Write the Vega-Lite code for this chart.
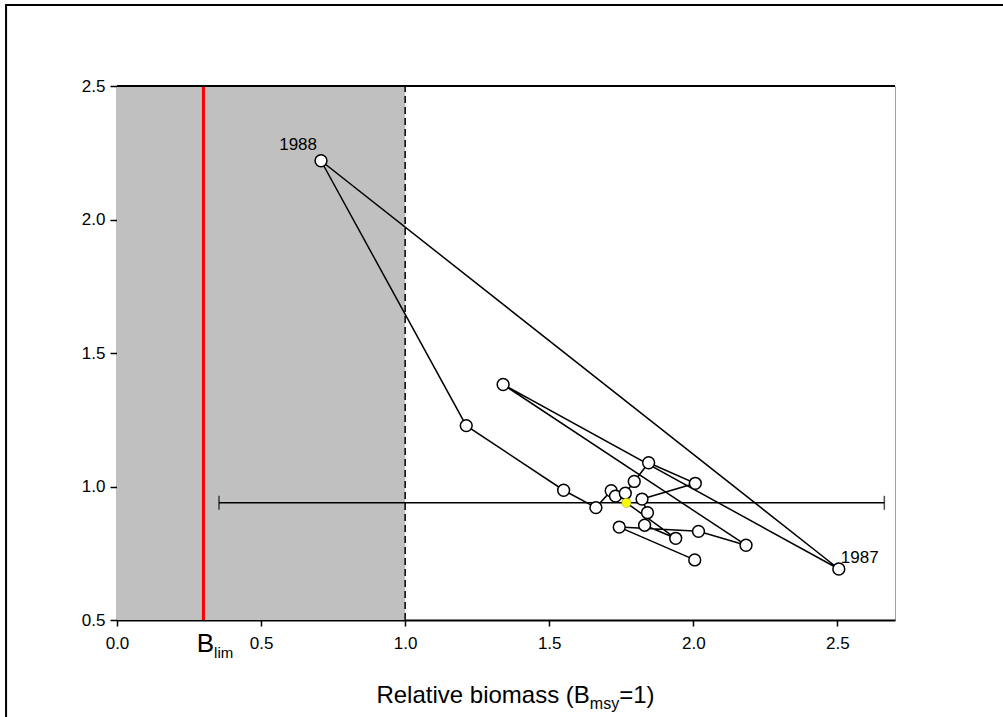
{
  "$schema": "https://vega.github.io/schema/vega-lite/v6.json",
  "width": 778,
  "height": 534,
  "autosize": {"type": "none"},
  "padding": {"left": 117, "top": 86, "right": 108, "bottom": 97},
  "background": "white",
  "config": {
    "view": {"stroke": "#a0a0a0", "strokeWidth": 1},
    "font": "Liberation Sans"
  },
  "data": {"values": [{}]},
  "datasets": {
    "series": [
      {"year": 1982, "b": 2.005, "f": 0.725},
      {"year": 1983, "b": 1.743, "f": 0.848},
      {"year": 1984, "b": 2.018, "f": 0.832},
      {"year": 1985, "b": 2.183, "f": 0.780},
      {"year": 1986, "b": 1.340, "f": 1.382},
      {"year": 1987, "b": 2.505, "f": 0.691},
      {"year": 1988, "b": 0.708, "f": 2.220},
      {"year": 1989, "b": 1.212, "f": 1.228},
      {"year": 1990, "b": 1.550, "f": 0.986},
      {"year": 1991, "b": 1.662, "f": 0.921},
      {"year": 1992, "b": 1.715, "f": 0.984},
      {"year": 1993, "b": 1.730, "f": 0.964},
      {"year": 1994, "b": 1.764, "f": 0.975},
      {"year": 1995, "b": 1.795, "f": 1.019},
      {"year": 1996, "b": 1.845, "f": 1.089},
      {"year": 1997, "b": 2.007, "f": 1.012},
      {"year": 1998, "b": 1.822, "f": 0.953},
      {"year": 1999, "b": 1.841, "f": 0.902},
      {"year": 2000, "b": 1.831, "f": 0.855},
      {"year": 2001, "b": 1.939, "f": 0.806},
      {"year": 2002, "b": 1.768, "f": 0.939}
    ],
    "ci": [{"lo": 0.354, "hi": 2.663, "f": 0.939}],
    "caps": [{"b": 0.354, "f": 0.939}, {"b": 2.663, "f": 0.939}]
  },
  "layer": [
    {
      "mark": {"type": "rect", "color": "#c0c0c0"},
      "encoding": {
        "x": {"datum": 0, "type": "quantitative", "title": null, "scale": {"domain": [0, 2.7], "nice": false, "zero": false},
          "axis": {"values": [0, 0.5, 1, 1.5, 2, 2.5], "title": null, "format": ".1f", "labelFontSize": 17, "labelColor": "black", "labelFont": "Liberation Sans", "tickColor": "black", "tickSize": 6, "tickWidth": 1.5, "domainColor": "black", "domainWidth": 2, "labelPadding": 9, "grid": false, "labelFlush": false}},
        "x2": {"datum": 1},
        "y": {"datum": 0.5, "type": "quantitative", "title": null, "scale": {"domain": [0.5, 2.5], "nice": false, "zero": false},
          "axis": {"values": [0.5, 1, 1.5, 2, 2.5], "title": null, "format": ".1f", "labelFontSize": 17, "labelColor": "black", "labelFont": "Liberation Sans", "tickColor": "black", "tickSize": 7, "tickWidth": 1.5, "domainColor": "black", "domainWidth": 1.5, "labelPadding": 5, "grid": false, "labelFlush": false}},
        "y2": {"datum": 2.5}
      }
    },
    {
      "mark": {"type": "rule", "color": "#ff0000", "strokeWidth": 3},
      "encoding": {
        "x": {"datum": 0.3, "type": "quantitative", "title": null, "scale": {"domain": [0, 2.7], "nice": false, "zero": false}},
        "y": {"datum": 0.5, "type": "quantitative", "title": null, "scale": {"domain": [0.5, 2.5], "nice": false, "zero": false}},
        "y2": {"datum": 2.5}
      }
    },
    {
      "mark": {"type": "rule", "color": "black", "strokeWidth": 1.5, "strokeDash": [7, 4]},
      "encoding": {
        "x": {"datum": 1, "type": "quantitative", "title": null, "scale": {"domain": [0, 2.7], "nice": false, "zero": false}},
        "y": {"datum": 0.5, "type": "quantitative", "title": null, "scale": {"domain": [0.5, 2.5], "nice": false, "zero": false}},
        "y2": {"datum": 2.5}
      }
    },
    {
      "mark": {"type": "rule", "color": "black", "strokeWidth": 2},
      "encoding": {
        "x": {"datum": 0, "type": "quantitative", "title": null, "scale": {"domain": [0, 2.7], "nice": false, "zero": false}},
        "x2": {"datum": 2.7},
        "y": {"datum": 2.5, "type": "quantitative", "title": null, "scale": {"domain": [0.5, 2.5], "nice": false, "zero": false}}
      }
    },
    {
      "mark": {"type": "rect", "fillOpacity": 0, "stroke": "black", "strokeWidth": 2, "clip": false},
      "encoding": {
        "x": {"datum": -0.385, "type": "quantitative", "title": null, "scale": {"domain": [0, 2.7], "nice": false, "zero": false}},
        "x2": {"datum": 3.5},
        "y": {"datum": 2.803, "type": "quantitative", "title": null, "scale": {"domain": [0.5, 2.5], "nice": false, "zero": false}},
        "y2": {"datum": -1.2}
      }
    },
    {
      "data": {"name": "ci"},
      "mark": {"type": "rule", "color": "black", "strokeWidth": 1.5},
      "encoding": {
        "x": {"field": "lo", "type": "quantitative", "title": null, "scale": {"domain": [0, 2.7], "nice": false, "zero": false}},
        "x2": {"field": "hi"},
        "y": {"field": "f", "type": "quantitative", "title": null, "scale": {"domain": [0.5, 2.5], "nice": false, "zero": false}}
      }
    },
    {
      "data": {"name": "caps"},
      "mark": {"type": "tick", "orient": "vertical", "color": "black", "thickness": 1.5, "size": 14},
      "encoding": {
        "x": {"field": "b", "type": "quantitative", "title": null, "scale": {"domain": [0, 2.7], "nice": false, "zero": false}},
        "y": {"field": "f", "type": "quantitative", "title": null, "scale": {"domain": [0.5, 2.5], "nice": false, "zero": false}}
      }
    },
    {
      "data": {"name": "series"},
      "mark": {"type": "line", "color": "black", "strokeWidth": 1.5},
      "encoding": {
        "x": {"field": "b", "type": "quantitative", "title": null, "scale": {"domain": [0, 2.7], "nice": false, "zero": false}},
        "y": {"field": "f", "type": "quantitative", "title": null, "scale": {"domain": [0.5, 2.5], "nice": false, "zero": false}},
        "order": {"field": "year", "type": "quantitative"}
      }
    },
    {
      "data": {"name": "series"},
      "transform": [{"filter": "datum.year != 2002"}],
      "mark": {"type": "point", "shape": "circle", "filled": true, "fill": "white", "stroke": "black", "strokeWidth": 1.5, "size": 140, "opacity": 1},
      "encoding": {
        "x": {"field": "b", "type": "quantitative", "title": null, "scale": {"domain": [0, 2.7], "nice": false, "zero": false}},
        "y": {"field": "f", "type": "quantitative", "title": null, "scale": {"domain": [0.5, 2.5], "nice": false, "zero": false}}
      }
    },
    {
      "data": {"name": "series"},
      "transform": [{"filter": "datum.year == 2002"}],
      "mark": {"type": "point", "shape": "circle", "filled": true, "fill": "#ffff00", "stroke": "#888800", "strokeWidth": 0.5, "size": 85, "opacity": 1},
      "encoding": {
        "x": {"field": "b", "type": "quantitative", "title": null, "scale": {"domain": [0, 2.7], "nice": false, "zero": false}},
        "y": {"field": "f", "type": "quantitative", "title": null, "scale": {"domain": [0.5, 2.5], "nice": false, "zero": false}}
      }
    },
    {
      "data": {"name": "series"},
      "transform": [{"filter": "datum.year == 1988"}],
      "mark": {"type": "text", "align": "right", "baseline": "alphabetic", "dx": -4, "dy": -11, "fontSize": 17, "font": "Liberation Sans", "color": "black"},
      "encoding": {
        "x": {"field": "b", "type": "quantitative", "title": null, "scale": {"domain": [0, 2.7], "nice": false, "zero": false}},
        "y": {"field": "f", "type": "quantitative", "title": null, "scale": {"domain": [0.5, 2.5], "nice": false, "zero": false}},
        "text": {"field": "year", "type": "nominal"}
      }
    },
    {
      "data": {"name": "series"},
      "transform": [{"filter": "datum.year == 1987"}],
      "mark": {"type": "text", "align": "left", "baseline": "alphabetic", "dx": 2, "dy": -6, "fontSize": 17, "font": "Liberation Sans", "color": "black"},
      "encoding": {
        "x": {"field": "b", "type": "quantitative", "title": null, "scale": {"domain": [0, 2.7], "nice": false, "zero": false}},
        "y": {"field": "f", "type": "quantitative", "title": null, "scale": {"domain": [0.5, 2.5], "nice": false, "zero": false}},
        "text": {"field": "year", "type": "nominal"}
      }
    },
    {
      "mark": {"type": "text", "text": "B", "align": "right", "baseline": "alphabetic", "fontSize": 26, "font": "Liberation Sans", "color": "black", "clip": false},
      "encoding": {
        "x": {"datum": 0.337, "type": "quantitative", "title": null, "scale": {"domain": [0, 2.7], "nice": false, "zero": false}},
        "y": {"datum": 0.38, "type": "quantitative", "title": null, "scale": {"domain": [0.5, 2.5], "nice": false, "zero": false}}
      }
    },
    {
      "mark": {"type": "text", "text": "lim", "align": "left", "baseline": "alphabetic", "fontSize": 15, "font": "Liberation Sans", "color": "black", "clip": false},
      "encoding": {
        "x": {"datum": 0.337, "type": "quantitative", "title": null, "scale": {"domain": [0, 2.7], "nice": false, "zero": false}},
        "y": {"datum": 0.358, "type": "quantitative", "title": null, "scale": {"domain": [0.5, 2.5], "nice": false, "zero": false}}
      }
    },
    {
      "mark": {"type": "text", "text": "Relative biomass (B", "align": "right", "baseline": "alphabetic", "fontSize": 24, "font": "Liberation Sans", "color": "black", "clip": false},
      "encoding": {
        "x": {"datum": 1.641, "type": "quantitative", "title": null, "scale": {"domain": [0, 2.7], "nice": false, "zero": false}},
        "y": {"datum": 0.191, "type": "quantitative", "title": null, "scale": {"domain": [0.5, 2.5], "nice": false, "zero": false}}
      }
    },
    {
      "mark": {"type": "text", "text": "msy", "align": "left", "baseline": "alphabetic", "fontSize": 16, "font": "Liberation Sans", "color": "black", "clip": false},
      "encoding": {
        "x": {"datum": 1.641, "type": "quantitative", "title": null, "scale": {"domain": [0, 2.7], "nice": false, "zero": false}},
        "y": {"datum": 0.168, "type": "quantitative", "title": null, "scale": {"domain": [0.5, 2.5], "nice": false, "zero": false}}
      }
    },
    {
      "mark": {"type": "text", "text": "=1)", "align": "left", "baseline": "alphabetic", "fontSize": 24, "font": "Liberation Sans", "color": "black", "clip": false},
      "encoding": {
        "x": {"datum": 1.743, "type": "quantitative", "title": null, "scale": {"domain": [0, 2.7], "nice": false, "zero": false}},
        "y": {"datum": 0.191, "type": "quantitative", "title": null, "scale": {"domain": [0.5, 2.5], "nice": false, "zero": false}}
      }
    }
  ]
}
